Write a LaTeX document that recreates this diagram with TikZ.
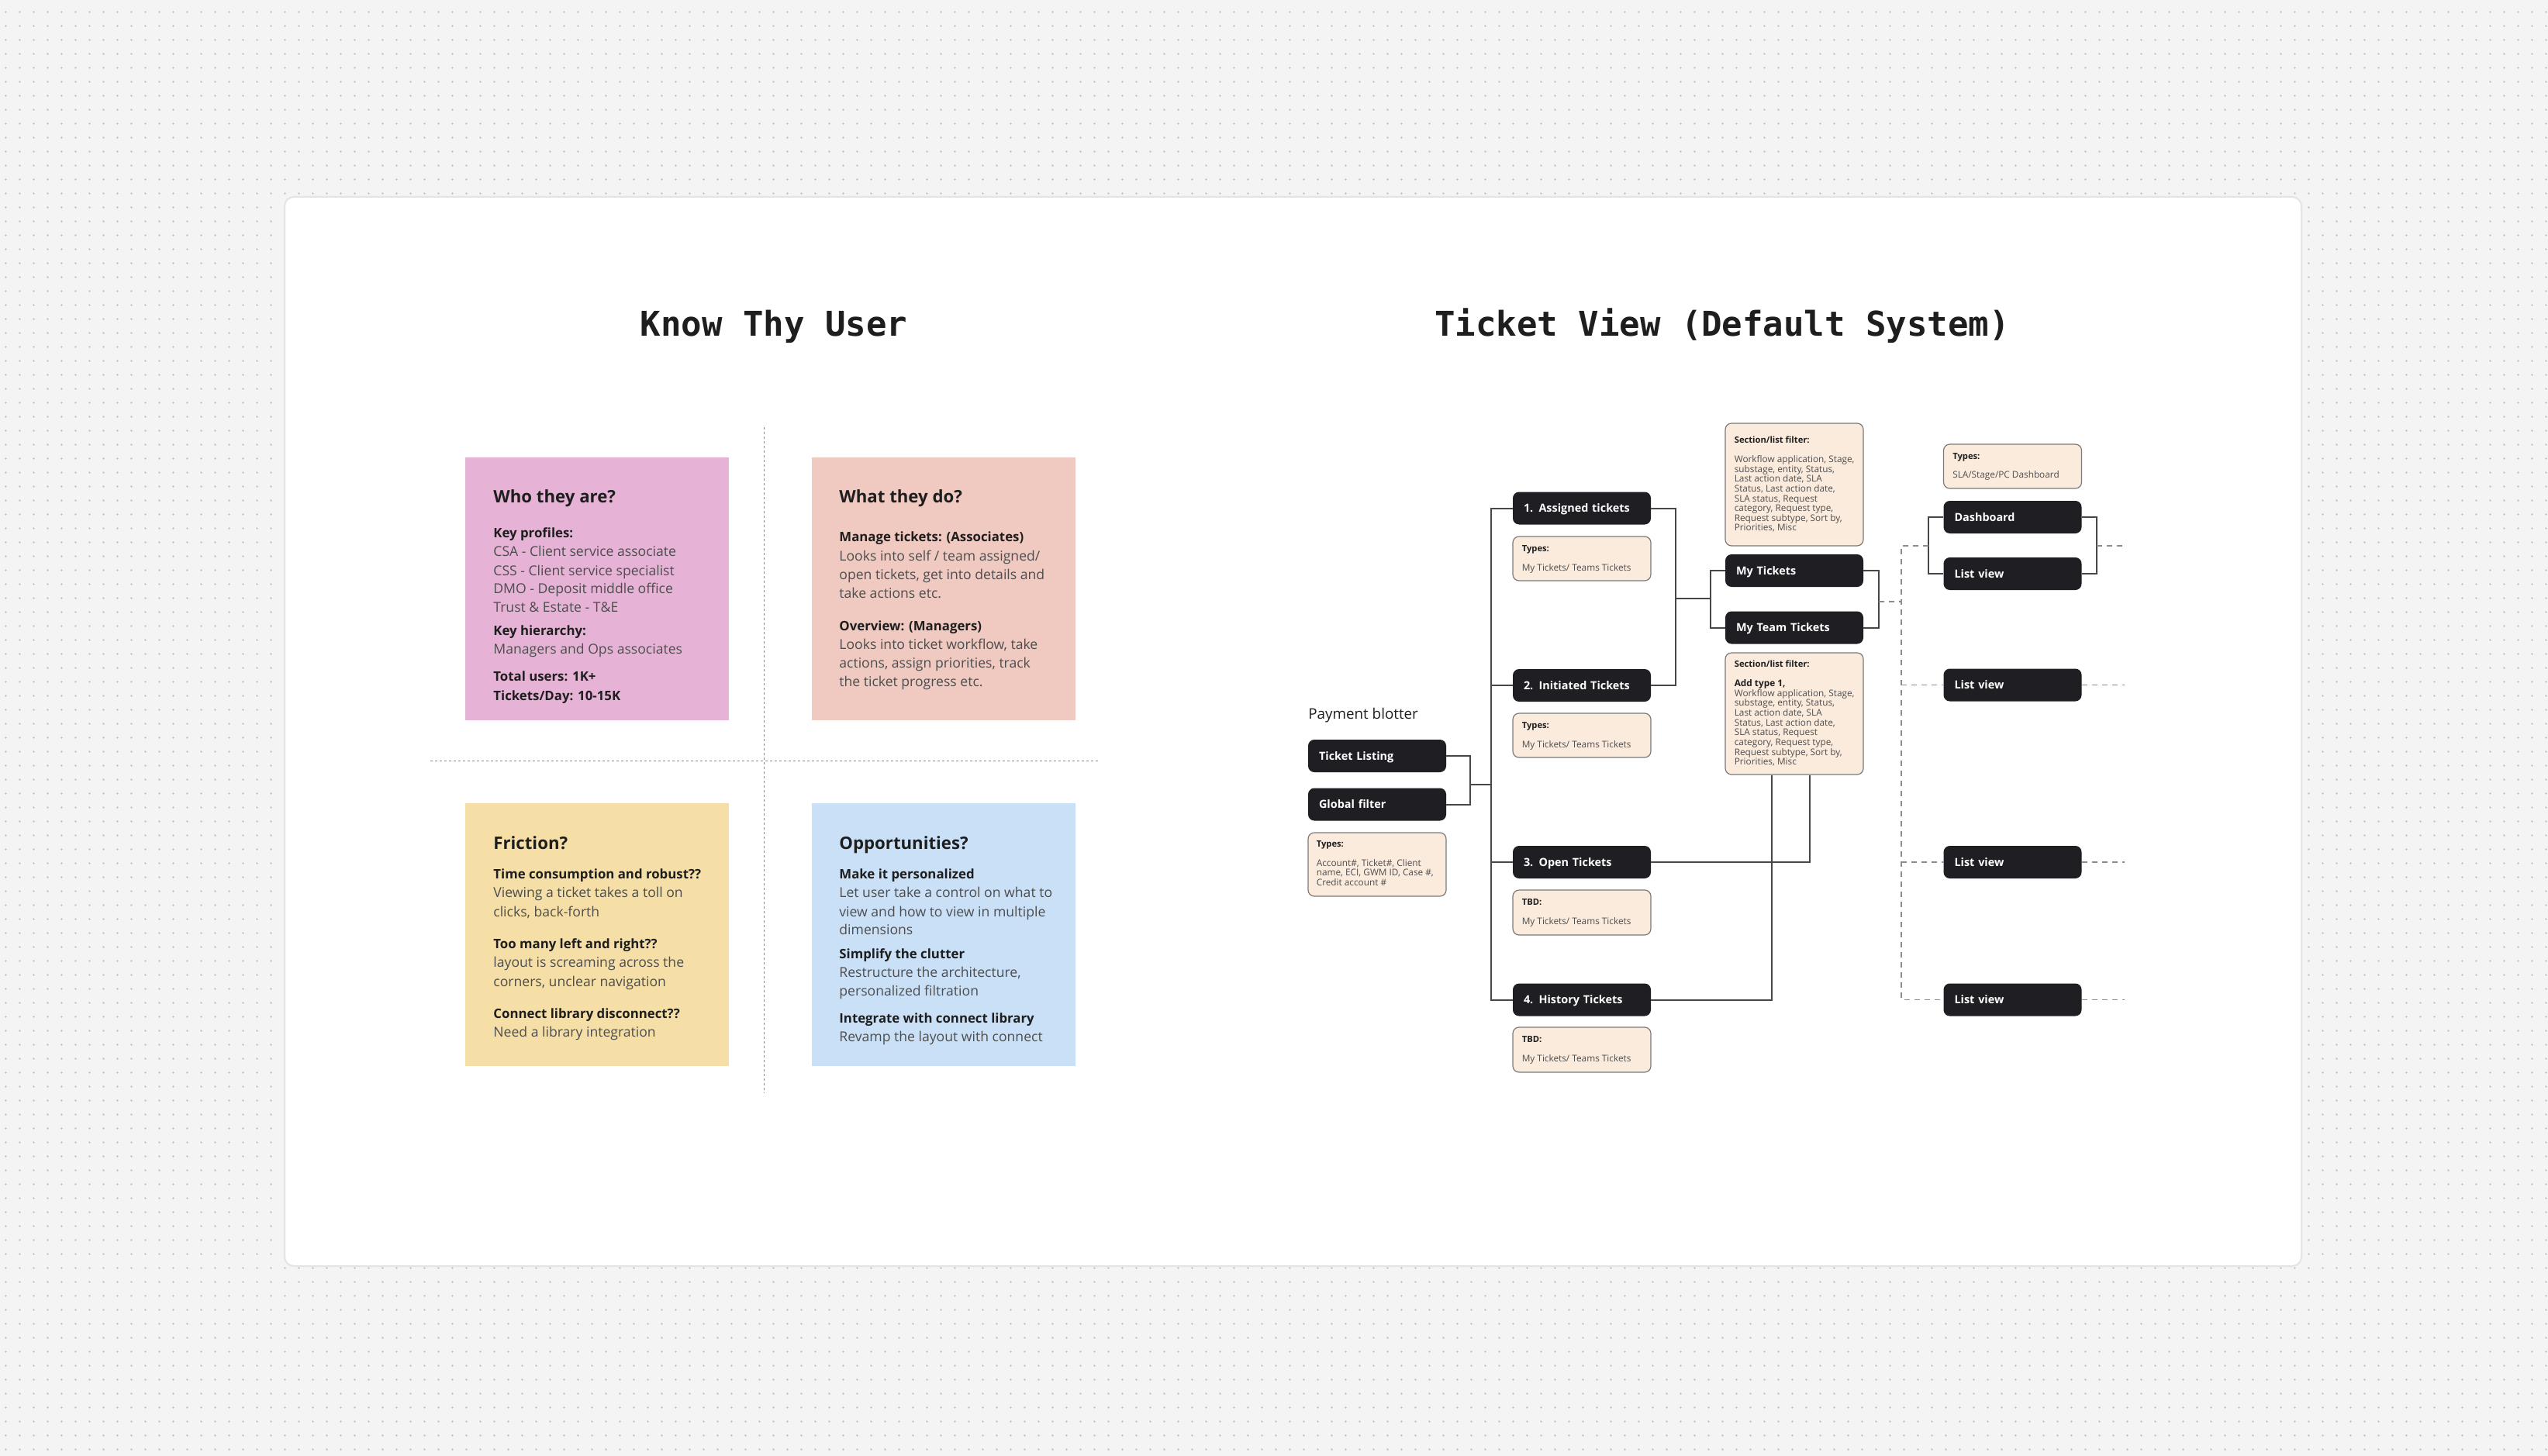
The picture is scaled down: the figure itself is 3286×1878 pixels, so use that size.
\documentclass[tikz,border=0pt]{standalone}
\usepackage{fontspec}
\setmainfont{Open Sans}
\newfontfamily\titlemono{DejaVu Sans Mono}
\usetikzlibrary{patterns.meta,calc}
\definecolor{bgc}{HTML}{F4F4F4}
\definecolor{dotc}{HTML}{C4C4C4}
\definecolor{cardborder}{HTML}{E4E4E4}
\definecolor{pinkc}{HTML}{E6B3D7}
\definecolor{peachc}{HTML}{F0C9C1}
\definecolor{yellowc}{HTML}{F5DFA6}
\definecolor{bluec}{HTML}{C9E0F7}
\definecolor{blkc}{HTML}{1F1E23}
\definecolor{lightc}{HTML}{FBEBDD}
\definecolor{lborder}{HTML}{7C7878}
\definecolor{headc}{HTML}{1E1E1E}
\definecolor{bodyc}{HTML}{4D4D4D}
\definecolor{linec}{HTML}{474747}
\definecolor{dashc}{HTML}{8C8C8C}

\tikzdeclarepattern{
  name=gdots,
  type=colored,
  bottom left={(0pt,0pt)},
  top right={(9pt,9pt)},
  tile size={(9pt,9pt)},
  code={\fill[dotc] (4.5pt,4.5pt) circle (0.7pt);}
}

\newcounter{tlc}
\newcommand{\txtline}[4]{\stepcounter{tlc}\node[#3,anchor=base west,inner sep=0pt] (line\arabic{tlc}) at (#1,#2) {#4};}
\newcommand{\stacklines}[1]{\begin{tabular}[t]{@{}l@{}}#1\end{tabular}}

\tikzset{
  note/.style={inner sep=0pt, minimum width=170pt, minimum height=169.5pt},
  ntitle/.style={font=\bfseries\fontsize{11.1}{13}\selectfont, text=headc},
  nhead/.style={font=\bfseries\fontsize{8.4}{10}\selectfont, text=headc},
  nbody/.style={font=\fontsize{8.8}{10}\selectfont, text=bodyc},
  blk/.style={fill=blkc, rounded corners=4pt, minimum width=89pt, minimum height=21pt,
    inner xsep=7pt, inner ysep=0pt, text width=75pt, align=left, text=white,
    font=\bfseries\fontsize{7.2}{8}\selectfont, text height=5.2pt, text depth=0pt},
  lbox/.style={fill=lightc, draw=lborder, line width=0.6pt, rounded corners=4pt,
    minimum width=89pt, inner sep=0pt},
  shead/.style={font=\bfseries\fontsize{5.6}{6.25}\selectfont, text=headc, inner sep=0pt, anchor=base west},
  sbody/.style={font=\fontsize{5.9}{6.25}\selectfont, text=bodyc, inner sep=0pt, anchor=base west},
  conn/.style={draw=linec, line width=1pt},
  dconn/.style={draw=dashc, line width=0.75pt, dash pattern=on 3.5pt off 3pt},
  qsep/.style={draw=dashc, line width=0.5pt, dash pattern=on 1.5pt off 1.5pt},
  bigtitle/.style={font=\titlemono\bfseries\fontsize{22}{26}\selectfont, text=headc, anchor=base, inner sep=0pt}
}

\begin{document}
\begin{tikzpicture}[x=0.5pt,y=-0.5pt]
\useasboundingbox (0,0) rectangle (3286,1878);
\fill[bgc] (0,0) rectangle (3286,1878);
\fill[pattern=gdots] (0,0) rectangle (3286,1878);

% card
\node[fill=white, draw=cardborder, line width=1pt, rounded corners=6pt, minimum width=1300.5pt, minimum height=689.5pt, inner sep=0pt] (card) at (1667.5,943.5) {};

% titles
\node[bigtitle] (ttlA) at (998,433) {Know Thy User};
\node[bigtitle] (ttlB) at (2221,433) {Ticket View (Default System)};

% quadrant separators
\coordinate (qvt) at (985,551);
\coordinate (qvb) at (985,1410);
\coordinate (qhl) at (555,981);
\coordinate (qhr) at (1417,981);
\draw[qsep] (qvt) -- (qvb);
\draw[qsep] (qhl) -- (qhr);

% sticky notes
\node[note, fill=pinkc] (pink) at (770,759) {};
\node[note, fill=peachc] (peach) at (1216.5,759) {};
\node[note, fill=yellowc] (yellow) at (770,1205) {};
\node[note, fill=bluec] (blue) at (1216.5,1205) {};

% pink text
\txtline{636}{648}{ntitle}{Who they are?}
\txtline{636}{693}{nhead}{Key profiles:}
\txtline{636}{717}{nbody}{CSA - Client service associate}
\txtline{636}{742}{nbody}{CSS - Client service specialist}
\txtline{636}{765}{nbody}{DMO - Deposit middle office}
\txtline{636}{789}{nbody}{Trust \& Estate - T\&E}
\txtline{636}{819}{nhead}{Key hierarchy:}
\txtline{636}{843}{nbody}{Managers and Ops associates}
\txtline{636}{878}{nhead}{Total users: 1K+}
\txtline{636}{903}{nhead}{Tickets/Day: 10-15K}

% peach text
\txtline{1082}{648}{ntitle}{What they do?}
\txtline{1082}{698}{nhead}{Manage tickets: (Associates)}
\txtline{1082}{723}{nbody}{Looks into self / team assigned/}
\txtline{1082}{747}{nbody}{open tickets, get into details and}
\txtline{1082}{771}{nbody}{take actions etc.}
\txtline{1082}{813}{nhead}{Overview: (Managers)}
\txtline{1082}{837}{nbody}{Looks into ticket workflow, take}
\txtline{1082}{861}{nbody}{actions, assign priorities, track}
\txtline{1082}{885}{nbody}{the ticket progress etc.}

% yellow text
\txtline{636}{1095}{ntitle}{Friction?}
\txtline{636}{1133}{nhead}{Time consumption and robust??}
\txtline{636}{1157}{nbody}{Viewing a ticket takes a toll on}
\txtline{636}{1182}{nbody}{clicks, back-forth}
\txtline{636}{1223}{nhead}{Too many left and right??}
\txtline{636}{1247}{nbody}{layout is screaming across the}
\txtline{636}{1272}{nbody}{corners, unclear navigation}
\txtline{636}{1313}{nhead}{Connect library disconnect??}
\txtline{636}{1337}{nbody}{Need a library integration}

% blue text
\txtline{1082}{1095}{ntitle}{Opportunities?}
\txtline{1082}{1133}{nhead}{Make it personalized}
\txtline{1082}{1157}{nbody}{Let user take a control on what to}
\txtline{1082}{1182}{nbody}{view and how to view in multiple}
\txtline{1082}{1205}{nbody}{dimensions}
\txtline{1082}{1236}{nhead}{Simplify the clutter}
\txtline{1082}{1260}{nbody}{Restructure the architecture,}
\txtline{1082}{1284}{nbody}{personalized filtration}
\txtline{1082}{1319}{nhead}{Integrate with connect library}
\txtline{1082}{1343}{nbody}{Revamp the layout with connect}

% ---------- Ticket view diagram ----------
\node[font=\fontsize{9.4}{11}\selectfont, text=headc, anchor=base west, inner sep=0pt] (pblot) at (1687,927) {Payment blotter};

% left column
\node[blk] (listing) at (1776,975) {Ticket Listing};
\node[blk] (gfilter) at (1776,1037.5) {Global filter};
\node[lbox, minimum height=41pt] (pbtypes) at (1776,1115) {};
\node[shead] (pbtA) at ($(pbtypes.north west)+(11,19)$) {Types:};
\node[sbody] (pbtB) at ($(pbtypes.north west)+(11,44)$) {\stacklines{Account\#, Ticket\#, Client\\name, ECI, GWM ID, Case \#,\\Credit account \#}};

% middle column
\node[blk] (assigned) at (2040,655.5) {1. Assigned tickets};
\node[lbox, minimum height=28.5pt] (t1) at (2040,720.5) {};
\node[shead] (t1A) at ($(t1.north west)+(12,20)$) {Types:};
\node[sbody] (t1B) at ($(t1.north west)+(12,45)$) {My Tickets/ Teams Tickets};

\node[blk] (initiated) at (2040,884) {2. Initiated Tickets};
\node[lbox, minimum height=28.5pt] (t2) at (2040,948.5) {};
\node[shead] (t2A) at ($(t2.north west)+(12,20)$) {Types:};
\node[sbody] (t2B) at ($(t2.north west)+(12,45)$) {My Tickets/ Teams Tickets};

\node[blk] (open) at (2040,1112) {3. Open Tickets};
\node[lbox, minimum height=29pt] (t3) at (2040,1177) {};
\node[shead] (t3A) at ($(t3.north west)+(12,20)$) {TBD:};
\node[sbody] (t3B) at ($(t3.north west)+(12,45)$) {My Tickets/ Teams Tickets};

\node[blk] (history) at (2040,1289.5) {4. History Tickets};
\node[lbox, minimum height=29pt] (t4) at (2040,1354) {};
\node[shead] (t4A) at ($(t4.north west)+(12,20)$) {TBD:};
\node[sbody] (t4B) at ($(t4.north west)+(12,45)$) {My Tickets/ Teams Tickets};

% section column
\node[lbox, minimum height=79pt] (sec1) at (2314,625) {};
\node[shead] (s1A) at ($(sec1.north west)+(12,26)$) {Section/list filter:};
\node[sbody] (s1B) at ($(sec1.north west)+(12,51)$) {\stacklines{Workflow application, Stage,\\substage, entity, Status,\\Last action date, SLA\\Status, Last action date,\\SLA status, Request\\category, Request type,\\Request subtype, Sort by,\\Priorities, Misc}};

\node[blk] (mytickets) at (2314,736) {My Tickets};
\node[blk] (myteam) at (2314,809.5) {My Team Tickets};

\node[lbox, minimum height=78.5pt] (sec2) at (2314,920.5) {};
\node[shead] (s2A) at ($(sec2.north west)+(12,19)$) {Section/list filter:};
\node[sbody] (s2B) at ($(sec2.north west)+(12,44)$) {\stacklines{{\bfseries\color{headc}Add type 1,}\\Workflow application, Stage,\\substage, entity, Status,\\Last action date, SLA\\Status, Last action date,\\SLA status, Request\\category, Request type,\\Request subtype, Sort by,\\Priorities, Misc}};

% right column
\node[lbox, minimum height=28.5pt] (sla) at (2595.5,601.5) {};
\node[shead] (slaA) at ($(sla.north west)+(12,20)$) {Types:};
\node[sbody] (slaB) at ($(sla.north west)+(12,44)$) {SLA/Stage/PC Dashboard};
\node[blk] (dashb) at (2595.5,667) {Dashboard};
\node[blk] (lv1) at (2595.5,740) {List view};
\node[blk] (lv2) at (2595.5,883.5) {List view};
\node[blk] (lv3) at (2595.5,1112) {List view};
\node[blk] (lv4) at (2595.5,1289.5) {List view};

% solid connectors
\draw[conn] (assigned.west) -- ++(-28,0) |- (history.west);
\draw[conn] (initiated.west) -- ++(-28,0);
\draw[conn] (open.west) -- ++(-28,0);
\draw[conn] (listing.east) -- ++(31,0) |- (gfilter.east);
\coordinate (pbj) at (1896,1012);
\coordinate (busj) at (1923,1012);
\draw[conn] (pbj) -- (busj);
\draw[conn] (assigned.east) -- ++(32,0) |- (initiated.east);
\coordinate (rbj) at (2161,772);
\coordinate (mtj) at (2206,772);
\draw[conn] (rbj) -- (mtj);
\draw[conn] (mytickets.west) -- ++(-19,0) |- (myteam.west);
\draw[conn] (mytickets.east) -- ++(20,0) |- (myteam.east);
\draw[conn] (open.east) -| ($(sec2.south west)+(110,0)$);
\draw[conn] (history.east) -| ($(sec2.south west)+(61,0)$);
\draw[conn] (dashb.west) -- ++(-19,0) |- (lv1.west);
\draw[conn] (dashb.east) -- ++(19,0) |- (lv1.east);

% dashed connectors
\coordinate (dtop) at (2452,704);
\coordinate (dbot) at (2452,1289.5);
\coordinate (dbl) at (2487,704);
\coordinate (dbr) at (2704,704);
\coordinate (dbrx) at (2740,704);
\coordinate (mtr) at (2423,776);
\coordinate (mtrx) at (2452,776);
\draw[dconn] (dbl) -- (dtop) -- (dbot) -- (lv4.west);
\draw[dconn] (dbr) -- (dbrx);
\draw[dconn] (mtr) -- (mtrx);
\draw[dconn] (lv2.west -| dtop) -- (lv2.west);
\draw[dconn] (lv3.west -| dtop) -- (lv3.west);
\draw[dconn] (lv2.east) -- ++(55,0);
\draw[dconn] (lv3.east) -- ++(55,0);
\draw[dconn] (lv4.east) -- ++(55,0);
\end{tikzpicture}
\end{document}
